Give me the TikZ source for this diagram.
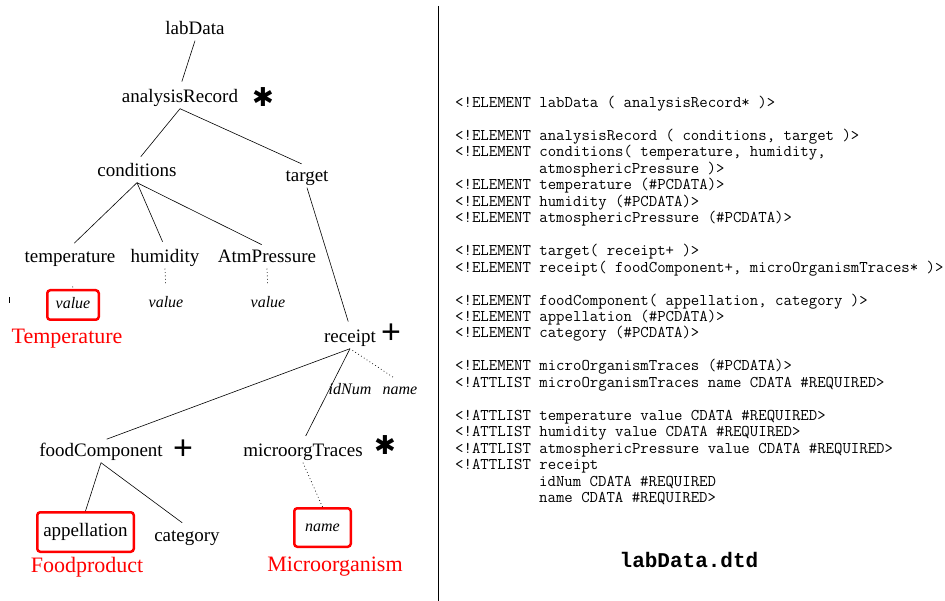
\documentclass[tikz,border=0pt]{standalone}
\usepackage{fontspec}
\setmainfont{Liberation Serif}
\newfontfamily\markfont{DejaVu Sans}
\newfontfamily\plusfont{Liberation Sans}
\newfontfamily\titlefont{Liberation Mono}
\usepackage{tikz}
\usetikzlibrary{positioning, calc}

\begin{document}
\begin{tikzpicture}[x=1pt,y=-1pt]
\tikzset{
  tag/.style={font=\fontsize{19}{22}\selectfont,inner sep=2pt,text height=13pt,text depth=4pt},
  attr/.style={font=\fontsize{16}{19}\selectfont\itshape,inner sep=2pt,text height=11pt,text depth=3pt},
  redbox/.style={draw=red,line width=2.5pt,rounded corners=3pt,inner sep=0pt},
  caption/.style={text=red,font=\fontsize{22}{26}\selectfont,inner sep=1pt},
  star/.style={font=\markfont\fontsize{26}{28}\selectfont,inner sep=0pt},
  plus/.style={font=\plusfont\fontsize{34}{36}\selectfont,inner sep=0pt},
  ed/.style={line width=0.6pt,shorten >=6pt},
  dots/.style={line width=0.7pt,dash pattern=on 0.8pt off 2.6pt},
  dtd/.style={anchor=base west,inner sep=0pt,font=\fontsize{16.35}{16.46}\selectfont\ttfamily}
}
\useasboundingbox (0,0) rectangle (945,601);

% tree
\node[tag] (labData) at (195,30) {labData};
\node[tag] (analysisRecord) at (180,98) {analysisRecord};
\node[star] (s1) at (263,97) {✱};
\node[tag] (conditions) at (137,172) {conditions};
\node[tag] (target) at (307,177) {target};
\node[tag] (temperature) at (70,258) {temperature};
\node[tag] (humidity) at (165,258) {humidity};
\node[tag] (atm) at (267,258) {AtmPressure};
\node[attr,redbox,minimum width=51.5pt,minimum height=29.5pt] (tval) at (73,305) {value};
\node[attr] (hval) at (166,304) {value};
\node[attr] (aval) at (268,304) {value};
\node[caption] (lblTemp) at (67,339) {Temperature};
\node[tag] (receipt) at (350,338) {receipt};
\node[plus] (p1) at (391,334) {+};
\node[attr] (idNum) at (350,391) {idNum};
\node[attr] (rname) at (400,391) {name};
\node[tag] (food) at (101,452) {foodComponent};
\node[plus] (p2) at (183,450) {+};
\node[tag] (micro) at (303,452) {microorgTraces};
\node[star] (s2) at (385,445) {✱};
\node[tag,redbox,minimum width=96.5pt,minimum height=39.5pt] (appellation) at (85.5,532) {appellation};
\node[tag] (category) at (187,537) {category};
\node[attr,redbox,minimum width=56.5pt,minimum height=38.5pt] (mname) at (322.5,527.5) {name};
\node[caption] (lblFood) at (87,567) {Foodproduct};
\node[caption] (lblMicro) at (335,567) {Microorganism};

\draw[ed] (labData.south) -- (analysisRecord.north);
\draw[ed] (analysisRecord.south) -- (conditions.north);
\draw[ed] (analysisRecord.south) -- (target.north);
\foreach \c in {temperature,humidity,atm}{\draw[ed] (conditions.south) -- (\c.north);}
\draw[ed] (target.south) -- (receipt.north);
\draw[ed] (receipt.south) -- (food.north);
\draw[ed] (receipt.south) -- (micro.north);
\draw[ed,shorten >=0pt] (food.south) -- (appellation.north);
\draw[ed] (food.south) -- (category.north);
\draw[dots,shorten <=18pt] (temperature.south) -- (tval.north);
\draw[dots,shorten >=10pt] (humidity.south) -- (hval.north);
\draw[dots,shorten >=10pt] (atm.south) -- (aval.north);
\draw[dots,shorten <=3pt,shorten >=8pt] (receipt.south) -- (rname.north);
\draw[dots] (micro.south) -- (mname.north);
\draw[line width=0.6pt] (9,297) -- (9,303);

% divider
\draw[line width=0.8pt] (438,6) -- (438,601);

% dtd listing
\foreach \i/\x/\t in {
  0/455/{<!ELEMENT labData ( analysisRecord* )>},
  2/455/{<!ELEMENT analysisRecord ( conditions, target )>},
  3/455/{<!ELEMENT conditions( temperature, humidity,},
  4/539/{atmosphericPressure )>},
  5/455/{<!ELEMENT temperature (\#PCDATA)>},
  6/455/{<!ELEMENT humidity (\#PCDATA)>},
  7/455/{<!ELEMENT atmosphericPressure (\#PCDATA)>},
  9/455/{<!ELEMENT target( receipt+ )>},
  10/455/{<!ELEMENT receipt( foodComponent+, microOrganismTraces* )>},
  12/455/{<!ELEMENT foodComponent( appellation, category )>},
  13/455/{<!ELEMENT appellation (\#PCDATA)>},
  14/455/{<!ELEMENT category (\#PCDATA)>},
  16/455/{<!ELEMENT microOrganismTraces (\#PCDATA)>},
  17/455/{<!ATTLIST microOrganismTraces name CDATA \#REQUIRED>},
  19/455/{<!ATTLIST temperature value CDATA \#REQUIRED>},
  20/455/{<!ATTLIST humidity value CDATA \#REQUIRED>},
  21/455/{<!ATTLIST atmosphericPressure value CDATA \#REQUIRED>},
  22/455/{<!ATTLIST receipt},
  23/539/{idNum CDATA \#REQUIRED},
  24/539/{name CDATA \#REQUIRED>}}
  {\node[dtd] (line\i) at (\x,107.5+16.46*\i) {\t};}
\node[font=\titlefont\fontsize{21}{24}\selectfont\bfseries] (title) at (689,560) {labData.dtd};
\end{tikzpicture}
\end{document}
